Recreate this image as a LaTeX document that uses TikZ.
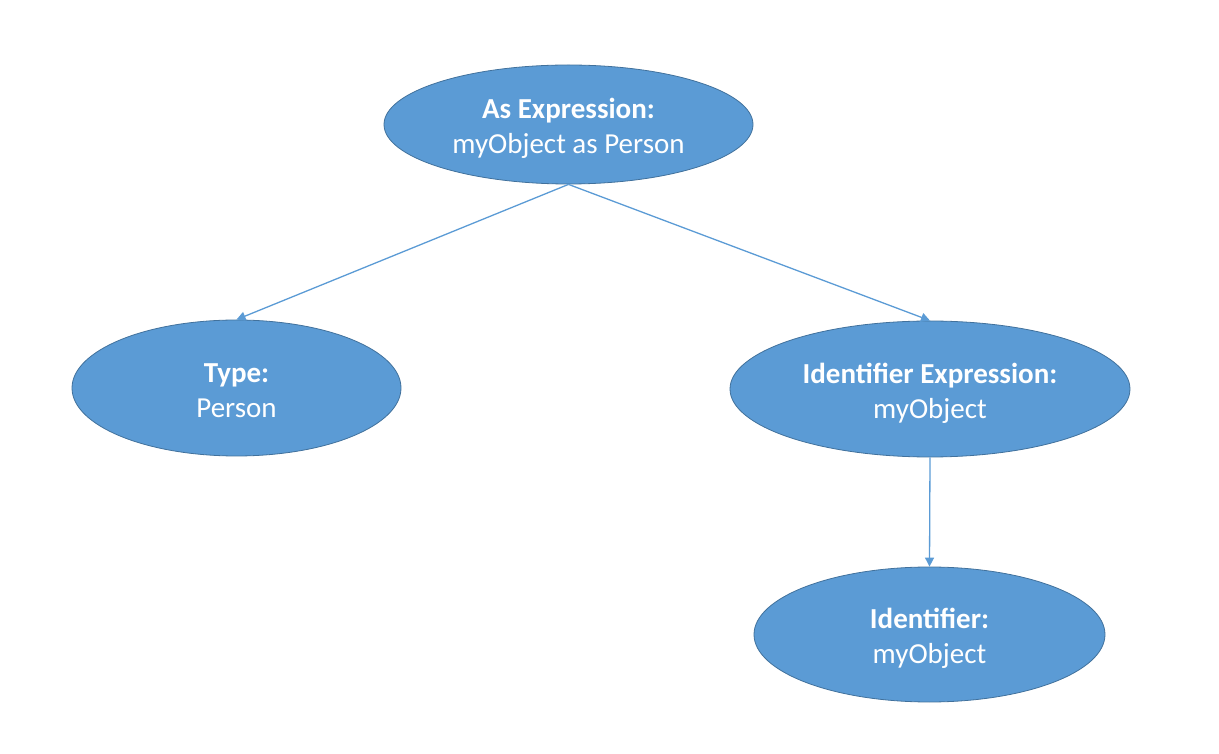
\documentclass[tikz,border=0pt]{standalone}
\usepackage{fontspec}
\setmainfont{Carlito}
\usetikzlibrary{shapes.geometric,arrows.meta}
\definecolor{nodefill}{HTML}{5B9BD5}
\definecolor{nodeline}{HTML}{41719C}
\definecolor{arrowcol}{HTML}{5B9BD5}
\newcommand{\twolines}[2]{\raisebox{-5pt}[\height][\depth]{\begin{tabular}{@{}c@{}}\textbf{#1}\\#2\end{tabular}}}
\tikzset{
  astnode/.style={ellipse, draw=nodeline, fill=nodefill, line width=0.8pt, inner sep=0pt,
    text=white, font=\fontsize{29}{35}\selectfont},
  link/.style={draw=arrowcol, line width=1.3pt, -{Triangle[width=9pt,length=9pt]}}
}
\begin{document}
\begin{tikzpicture}[x=1pt,y=1pt]
\useasboundingbox (0,0) rectangle (1219,753);
\node[astnode, minimum width=369pt, minimum height=119pt] (as) at (568.5,628.5) {\twolines{As Expression:}{myObject as Person}};
\node[astnode, minimum width=329pt, minimum height=136pt] (type) at (236.5,365) {\twolines{Type:}{Person}};
\node[astnode, minimum width=400pt, minimum height=136pt] (idexpr) at (930,364) {\twolines{Identifier Expression:}{myObject}};
\node[astnode, minimum width=351pt, minimum height=135pt] (id) at (929.5,118.5) {\twolines{Identifier:}{myObject}};
\draw[link] (as.south) -- (type.north);
\draw[link] (as.south) -- (idexpr.north);
\draw[link] (idexpr.south) -- (id.north);
\end{tikzpicture}
\end{document}
